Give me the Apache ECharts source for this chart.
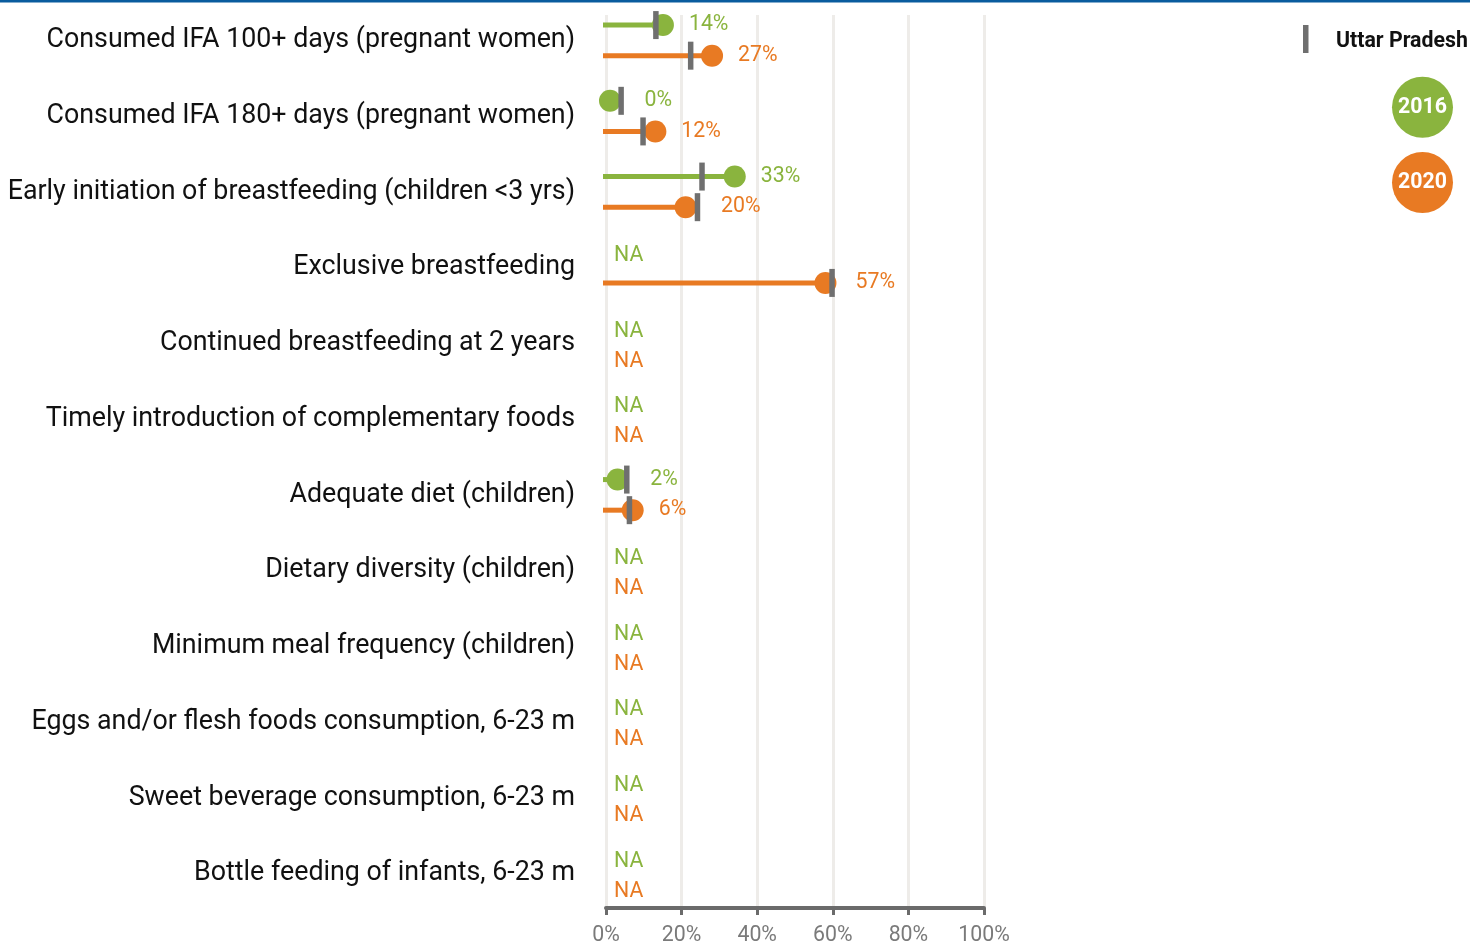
<!DOCTYPE html>
<html>
<head>
<meta charset="utf-8">
<title>IYCF indicators</title>
<script src="https://cdn.jsdelivr.net/npm/echarts@6/dist/echarts.min.js"></script>
<style>
  html, body { margin: 0; padding: 0; background: #fff; }
  #chart { width: 1470px; height: 946px; }
</style>
</head>
<body>
<div id="chart"></div>
<script>
// indicators, top to bottom
const categories = [
  'Consumed IFA 100+ days (pregnant women)',
  'Consumed IFA 180+ days (pregnant women)',
  'Early initiation of breastfeeding (children <3 yrs)',
  'Exclusive breastfeeding',
  'Continued breastfeeding at 2 years',
  'Timely introduction of complementary foods',
  'Adequate diet (children)',
  'Dietary diversity (children)',
  'Minimum meal frequency (children)',
  'Eggs and/or flesh foods consumption, 6-23 m',
  'Sweet beverage consumption, 6-23 m',
  'Bottle feeding of infants, 6-23 m'
];
// district values in %, null = NA
const val2016 = [14, 0, 33, null, null, null, 2, null, null, null, null, null];
const val2020 = [27, 12, 20, 57, null, null, 6, null, null, null, null, null];
// Uttar Pradesh state values (grey tick)
const state2016 = [13.2, 4, 25.4, null, null, null, 5.5, null, null, null, null, null];
const state2020 = [22.4, 9.8, 24.2, 59.8, null, null, 6.2, null, null, null, null, null];
const xTicks = [0, 20, 40, 60, 80, 100];

const GREEN = '#8ab43e';
const ORANGE = '#e87a23';
const GREY = '#6f6f6f';
const FONT = 'Roboto';
const SMALL = 21.3;

let chart = echarts.init(document.getElementById('chart'));

function renderRow(params, api) {
  let i = params.dataIndex;
  let base = api.coord([0, i]);
  let x0 = base[0], yc = base[1];
  let rows = [
    { v: val2016[i], m: state2016[i], color: GREEN, dy: -15.3, naDy: -12 },
    { v: val2020[i], m: state2020[i], color: ORANGE, dy: 15.3, naDy: 18 }
  ];
  let children = [];
  rows.forEach(function (r) {
    let y = yc + r.dy;
    if (r.v == null) {
      children.push({
        type: 'text',
        style: { x: x0 + 8, y: yc + r.naDy, text: 'NA', fill: r.color,
          font: SMALL + 'px ' + FONT, textAlign: 'left', textVerticalAlign: 'middle' }
      });
      return;
    }
    let xv = api.coord([r.v, i])[0] + 4;
    let xm = api.coord([r.m, i])[0];
    children.push({
      type: 'line',
      shape: { x1: x0 - 3, y1: y, x2: xv, y2: y },
      style: { stroke: r.color, lineWidth: 5 }
    });
    children.push({
      type: 'circle',
      shape: { cx: xv, cy: y, r: 11 },
      style: { fill: r.color }
    });
    children.push({
      type: 'rect',
      shape: { x: xm - 2.75, y: y - 14, width: 5.5, height: 28 },
      style: { fill: GREY }
    });
    children.push({
      type: 'text',
      style: { x: Math.max(xv + 26, xm + 23.5), y: y, text: r.v + '%', fill: r.color,
        font: SMALL + 'px ' + FONT, textAlign: 'left', textVerticalAlign: 'middle' }
    });
  });
  return { type: 'group', children: children };
}

let option = {
  backgroundColor: '#fff',
  animation: false,
  textStyle: { fontFamily: FONT },
  grid: [
    { left: 606, right: 486, top: 2.5, bottom: 34.5 },
    { left: 606, right: 486, top: 15, bottom: 37 }
  ],
  xAxis: [
    { gridIndex: 0, type: 'value', min: 0, max: 100, show: false },
    {
      gridIndex: 1,
      type: 'value',
      min: xTicks[0],
      max: xTicks[xTicks.length - 1],
      interval: 20,
      axisLine: { show: true, lineStyle: { color: '#6b6b6b', width: 4 } },
      axisTick: { show: true, length: 7, lineStyle: { color: '#6b6b6b', width: 3 } },
      axisLabel: { formatter: '{value}%', color: '#7a7a7a', fontSize: SMALL, margin: 17, fontFamily: FONT },
      splitLine: { show: true, lineStyle: { color: '#eeece9', width: 3 } }
    }
  ],
  yAxis: [
    {
      gridIndex: 0,
      type: 'category',
      data: categories,
      inverse: true,
      axisLine: { show: false },
      axisTick: { show: false },
      splitLine: { show: false },
      axisLabel: { color: '#111', fontSize: 26.8, margin: 31, fontFamily: FONT }
    },
    { gridIndex: 1, type: 'value', show: false, splitLine: { show: false } }
  ],
  series: [
    {
      type: 'custom',
      xAxisIndex: 0,
      yAxisIndex: 0,
      clip: false,
      renderItem: renderRow,
      encode: { x: 0, y: 1 },
      data: categories.map(function (c, i) { return [0, i]; })
    }
  ],
  graphic: [
    { type: 'rect', left: 0, top: 0, shape: { width: 1470, height: 2.5 }, style: { fill: '#0a5c9e' } },
    { type: 'rect', left: 1303, top: 25, shape: { width: 5.5, height: 28 }, style: { fill: GREY } },
    { type: 'text', left: 1336, top: 31, style: { text: 'Uttar Pradesh', fill: '#111', font: 'bold ' + SMALL + 'px ' + FONT } },
    { type: 'circle', shape: { cx: 1422.5, cy: 107.3, r: 30.5 }, style: { fill: GREEN } },
    { type: 'text', x: 1422.5, y: 107.3, style: { text: '2016', fill: '#fff', font: 'bold ' + SMALL + 'px ' + FONT, textAlign: 'center', textVerticalAlign: 'middle' } },
    { type: 'circle', shape: { cx: 1422.5, cy: 182.5, r: 30.5 }, style: { fill: ORANGE } },
    { type: 'text', x: 1422.5, y: 182.5, style: { text: '2020', fill: '#fff', font: 'bold ' + SMALL + 'px ' + FONT, textAlign: 'center', textVerticalAlign: 'middle' } }
  ]
};

option && chart.setOption(option);
</script>
</body>
</html>
